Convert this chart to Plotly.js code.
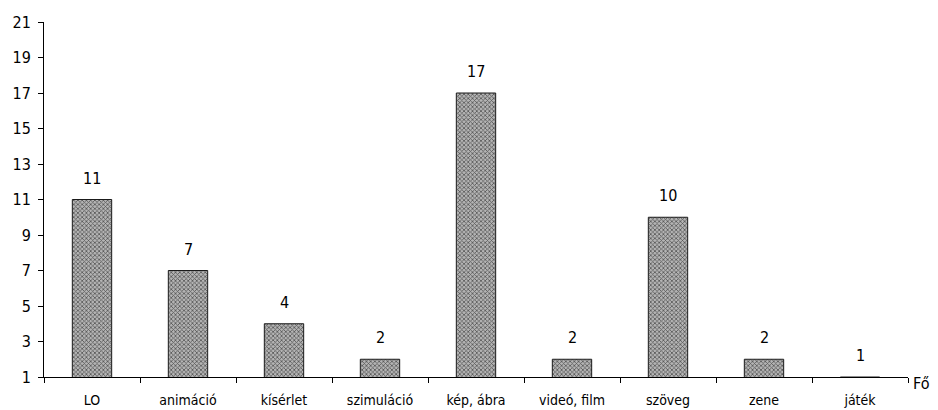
<!DOCTYPE html>
<html>
<head>
<meta charset="utf-8">
<script src="https://cdn.plot.ly/plotly-3.0.1.min.js"></script>
<style>html,body{margin:0;padding:0;background:#fff;}#chart{width:938px;height:410px;}</style>
</head>
<body>
<div id="chart"></div>
<script>
const categories = ["LO", "animáció", "kísérlet", "szimuláció", "kép, ábra", "videó, film", "szöveg", "zene", "játék"];
const values = [11, 7, 4, 2, 17, 2, 10, 2, 1];
const yTicks = [1, 3, 5, 7, 9, 11, 13, 15, 17, 19, 21];
const axisLabel = "Fő";

const font = "DejaVu Sans Condensed, DejaVu Sans, sans-serif";

const trace = {
  type: "bar",
  x: categories,
  y: values,
  width: 0.41,
  marker: {
    color: "#8a8a8a",
    line: {color: "#1a1a1a", width: 1},
    pattern: {shape: "x", fgcolor: "#555", bgcolor: "#b4b4b4", size: 3, solidity: 0.45}
  },
  hoverinfo: "none"
};

const valueLabels = categories.map((c, i) => ({
  x: c, y: values[i], xref: "x", yref: "y",
  text: String(values[i]), showarrow: false,
  yanchor: "bottom", yshift: 11, borderpad: 0,
  font: {family: font, size: 16, color: "#000"}
}));

const layout = {
  width: 938, height: 410,
  margin: {l: 44, r: 30, t: 22, b: 33},
  paper_bgcolor: "#fff", plot_bgcolor: "#fff",
  showlegend: false,
  bargap: 0.59,
  xaxis: {
    type: "category",
    tickson: "boundaries",
    ticks: "outside", ticklen: 5, tickcolor: "#000",
    showline: true, linecolor: "#000", linewidth: 1,
    showgrid: false, zeroline: false,
    ticklabelstandoff: 10,
    tickfont: {family: font, size: 14, color: "#000"}
  },
  yaxis: {
    range: [1, 21],
    tickvals: yTicks,
    ticktext: yTicks.map(String),
    ticks: "outside", ticklen: 5, tickcolor: "#000",
    showline: true, linecolor: "#000", linewidth: 1,
    showgrid: false, zeroline: false,
    ticklabelstandoff: 4,
    tickfont: {family: font, size: 16, color: "#000"}
  },
  annotations: valueLabels.concat([{
    text: axisLabel, xref: "paper", yref: "paper", x: 1, y: 0,
    xanchor: "left", yanchor: "middle", xshift: 3, yshift: -6, showarrow: false,
    font: {family: font, size: 16, color: "#000"}
  }])
};

Plotly.newPlot("chart", [trace], layout, {displayModeBar: false, staticPlot: true});
</script>
</body>
</html>
